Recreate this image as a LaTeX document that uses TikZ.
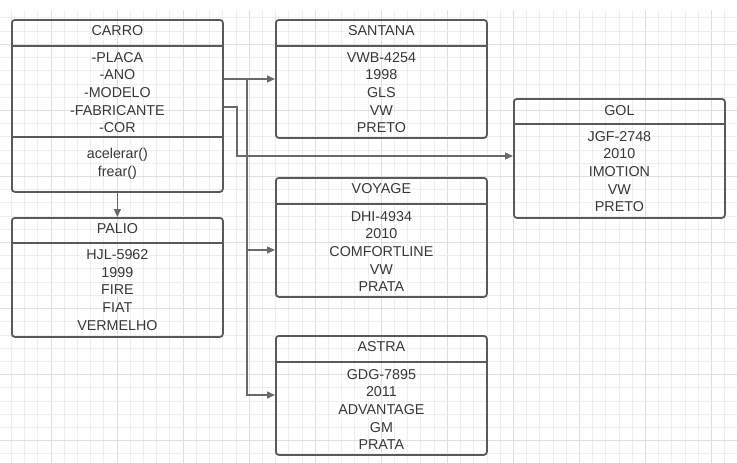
\documentclass[tikz,border=0pt]{standalone}
\usepackage{fontspec}
\setmainfont{Liberation Sans}
\usetikzlibrary{arrows.meta}
\definecolor{boxc}{HTML}{5A5A5A}
\definecolor{linec}{HTML}{6A6A6A}
\definecolor{txtc}{HTML}{383838}
\definecolor{gridminor}{HTML}{EEEEEE}
\definecolor{gridmajor}{HTML}{DFDFDF}
\begin{document}
\begin{tikzpicture}[x=1pt,y=1pt,
  boxshape/.style={draw=boxc, line width=1.8pt, rounded corners=3pt, minimum width=211pt, inner sep=0pt, anchor=north west},
  txt/.style={text=txtc, font=\fontsize{14.3}{17.6}\selectfont, align=center, inner sep=0pt},
  divider/.style={draw=boxc, line width=1.8pt},
  conn/.style={draw=linec, line width=1.3pt},
  arr/.style={conn, -{Triangle[length=8pt,width=7pt]}},
]
\useasboundingbox (0,0) rectangle (737,-463);
\fill[white] (0,0) rectangle (737,-463);
% grid
\foreach \k in {0,...,54}{
  \pgfmathtruncatemacro{\m}{mod(\k,5)}
  \ifnum\m=3 \def\gc{gridmajor}\else\def\gc{gridminor}\fi
  \draw[\gc, line width=0.9pt] ({11.4+13.21*\k},-10) -- ({11.4+13.21*\k},-463);
}
\foreach \k in {1,...,34}{
  \pgfmathtruncatemacro{\m}{mod(\k,5)}
  \ifnum\m=3 \def\gc{gridmajor}\else\def\gc{gridminor}\fi
  \draw[\gc, line width=0.9pt] (0,{-4.7-13.21*\k}) -- (737,{-4.7-13.21*\k});
}
% boxes
\node[boxshape, minimum height=172pt] (carro) at (11,-19) {};
\node[boxshape, minimum height=118pt] (santana) at (275,-19) {};
\node[boxshape, minimum height=119pt] (gol) at (513,-98) {};
\node[boxshape, minimum height=119pt] (voyage) at (275,-177) {};
\node[boxshape, minimum height=119pt] (palio) at (11,-217) {};
\node[boxshape, minimum height=119pt] (astra) at (275,-335) {};
% dividers
\draw[divider] (carro.west |- 0,-46) -- (carro.east |- 0,-46);
\draw[divider] (carro.west |- 0,-137) -- (carro.east |- 0,-137);
\draw[divider] (santana.west |- 0,-46) -- (santana.east |- 0,-46);
\draw[divider] (gol.west |- 0,-124) -- (gol.east |- 0,-124);
\draw[divider] (voyage.west |- 0,-204) -- (voyage.east |- 0,-204);
\draw[divider] (palio.west |- 0,-243) -- (palio.east |- 0,-243);
\draw[divider] (astra.west |- 0,-362) -- (astra.east |- 0,-362);
% texts
\node[txt] (carroT) at (carro.north |- 0,-31) {CARRO};
\node[txt] (carroA) at (carro.north |- 0,-92.5) {-PLACA\\-ANO\\-MODELO\\-FABRICANTE\\-COR};
\node[txt] (carroM) at (carro.north |- 0,-163.5) {acelerar()\\frear()};
\node[txt] (santanaT) at (santana.north |- 0,-31) {SANTANA};
\node[txt] (santanaB) at (santana.north |- 0,-92.5) {VWB-4254\\1998\\GLS\\VW\\PRETO};
\node[txt] (golT) at (gol.north |- 0,-111) {GOL};
\node[txt] (golB) at (gol.north |- 0,-171.5) {JGF-2748\\2010\\IMOTION\\VW\\PRETO};
\node[txt] (voyageT) at (voyage.north |- 0,-189) {VOYAGE};
\node[txt] (voyageB) at (voyage.north |- 0,-251.5) {DHI-4934\\2010\\COMFORTLINE\\VW\\PRATA};
\node[txt] (palioT) at (palio.north |- 0,-229) {PALIO};
\node[txt] (palioB) at (palio.north |- 0,-290) {HJL-5962\\1999\\FIRE\\FIAT\\VERMELHO};
\node[txt] (astraT) at (astra.north |- 0,-347) {ASTRA};
\node[txt] (astraB) at (astra.north |- 0,-409.5) {GDG-7895\\2011\\ADVANTAGE\\GM\\PRATA};
% connectors
\coordinate (j1) at (247,-79);
\coordinate (j2) at (237,-107);
\draw[arr] (carro.south) -- (palio.north);
\draw[arr] (carro.east |- j1) -- (j1) -- (santana.west |- j1);
\draw[arr] (j1) |- (voyage.west |- 0,-250);
\draw[arr] (j1) |- (astra.west |- 0,-395);
\draw[arr] (carro.east |- j2) -- (j2) |- (gol.west |- 0,-156);
\end{tikzpicture}
\end{document}
